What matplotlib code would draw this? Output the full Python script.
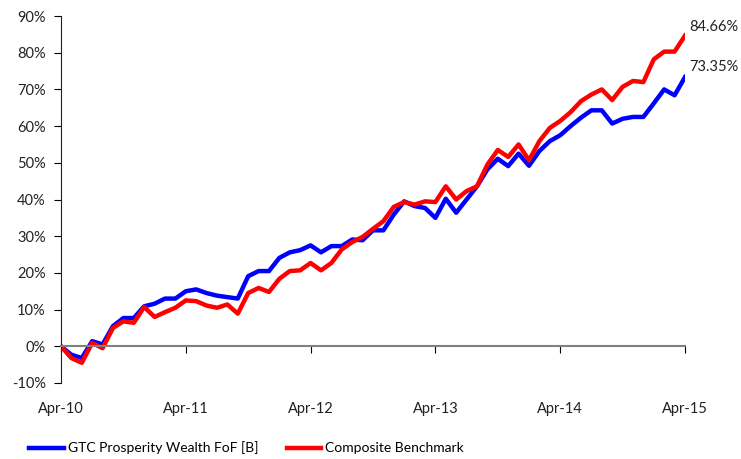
import matplotlib.pyplot as plt
from matplotlib.ticker import FuncFormatter

plt.rcParams['font.family'] = ['Lato', 'DejaVu Sans']

# monthly cumulative returns (%), Apr-10 .. Apr-15
fund = [0.0, -2.3, -3.2, 1.4, 0.5, 5.5, 7.7, 7.7, 10.9, 11.6,
        13.0, 13.0, 15.0, 15.5, 14.5, 13.8, 13.4, 13.0, 19.1, 20.5,
        20.5, 24.1, 25.6, 26.2, 27.5, 25.6, 27.3, 27.3, 29.1, 28.9,
        31.6, 31.6, 35.9, 39.5, 38.2, 37.7, 35.0, 40.2, 36.4, 40.0,
        43.6, 48.2, 51.1, 49.1, 52.5, 49.2, 53.2, 55.9, 57.5, 60.0,
        62.3, 64.3, 64.3, 60.7, 62.0, 62.5, 62.5, 66.2, 70.0, 68.4,
        73.35]
bench = [0.0, -3.2, -4.5, 0.9, -0.5, 5.0, 6.8, 6.4, 10.7, 8.0,
         9.3, 10.5, 12.5, 12.3, 11.1, 10.5, 11.4, 8.9, 14.5, 15.9,
         14.8, 18.4, 20.5, 20.7, 22.7, 20.7, 22.7, 26.4, 28.4, 29.8,
         32.0, 34.1, 38.0, 39.3, 38.6, 39.5, 39.3, 43.6, 40.0, 42.3,
         43.6, 49.5, 53.5, 51.6, 55.0, 50.7, 55.9, 59.5, 61.4, 63.8,
         66.8, 68.6, 70.0, 67.1, 70.7, 72.3, 72.0, 78.2, 80.3, 80.3,
         84.66]
tick_labels = ['Apr-10', 'Apr-11', 'Apr-12', 'Apr-13', 'Apr-14', 'Apr-15']
fund_name = 'GTC Prosperity Wealth FoF [B]'
bench_name = 'Composite Benchmark'

months = list(range(len(fund)))

fig = plt.figure(figsize=(7.41, 4.59), dpi=100)
ax = fig.add_axes([0.0823, 0.1656, 0.8421, 0.7995])

ax.plot(months, fund, color='#0000FF', lw=3.2, label=fund_name, solid_joinstyle='round')
ax.plot(months, bench, color='#FF0000', lw=3.2, label=bench_name, solid_joinstyle='round')

ax.set_xlim(0, 60)
ax.set_ylim(-10, 90)
ax.set_yticks(range(-10, 91, 10))
ax.yaxis.set_major_formatter(FuncFormatter(lambda v, p: f'{v:.0f}%'))
ax.set_xticks(range(0, 61, 12))
ax.set_xticklabels(tick_labels)

ax.spines['top'].set_visible(False)
ax.spines['right'].set_visible(False)
ax.spines['bottom'].set_position(('data', 0))
ax.spines['bottom'].set_color('#808080')
ax.spines['bottom'].set_linewidth(1.5)
ax.spines['left'].set_color('#222222')
ax.tick_params(axis='y', direction='out', length=5, labelsize=10.5, labelcolor='#222222', pad=6)
ax.tick_params(axis='x', direction='out', length=5, labelsize=10.5, labelcolor='#222222', pad=35)

# end-point labels
ax.annotate(f'{bench[-1]:.2f}%', xy=(60, bench[-1]), xytext=(3, 6), textcoords='offset points',
            ha='left', va='center', fontsize=10.5, color='#222222', annotation_clip=False)
ax.annotate(f'{fund[-1]:.2f}%', xy=(60, fund[-1]), xytext=(3, 7), textcoords='offset points',
            ha='left', va='center', fontsize=10.5, color='#222222', annotation_clip=False)

fig.legend(loc='center', bbox_to_anchor=(0.333, 0.024), ncol=2, frameon=False,
           fontsize=10, handlelength=2.5, handletextpad=0.3, columnspacing=2.0)

fig.savefig('out.png', dpi=100)
